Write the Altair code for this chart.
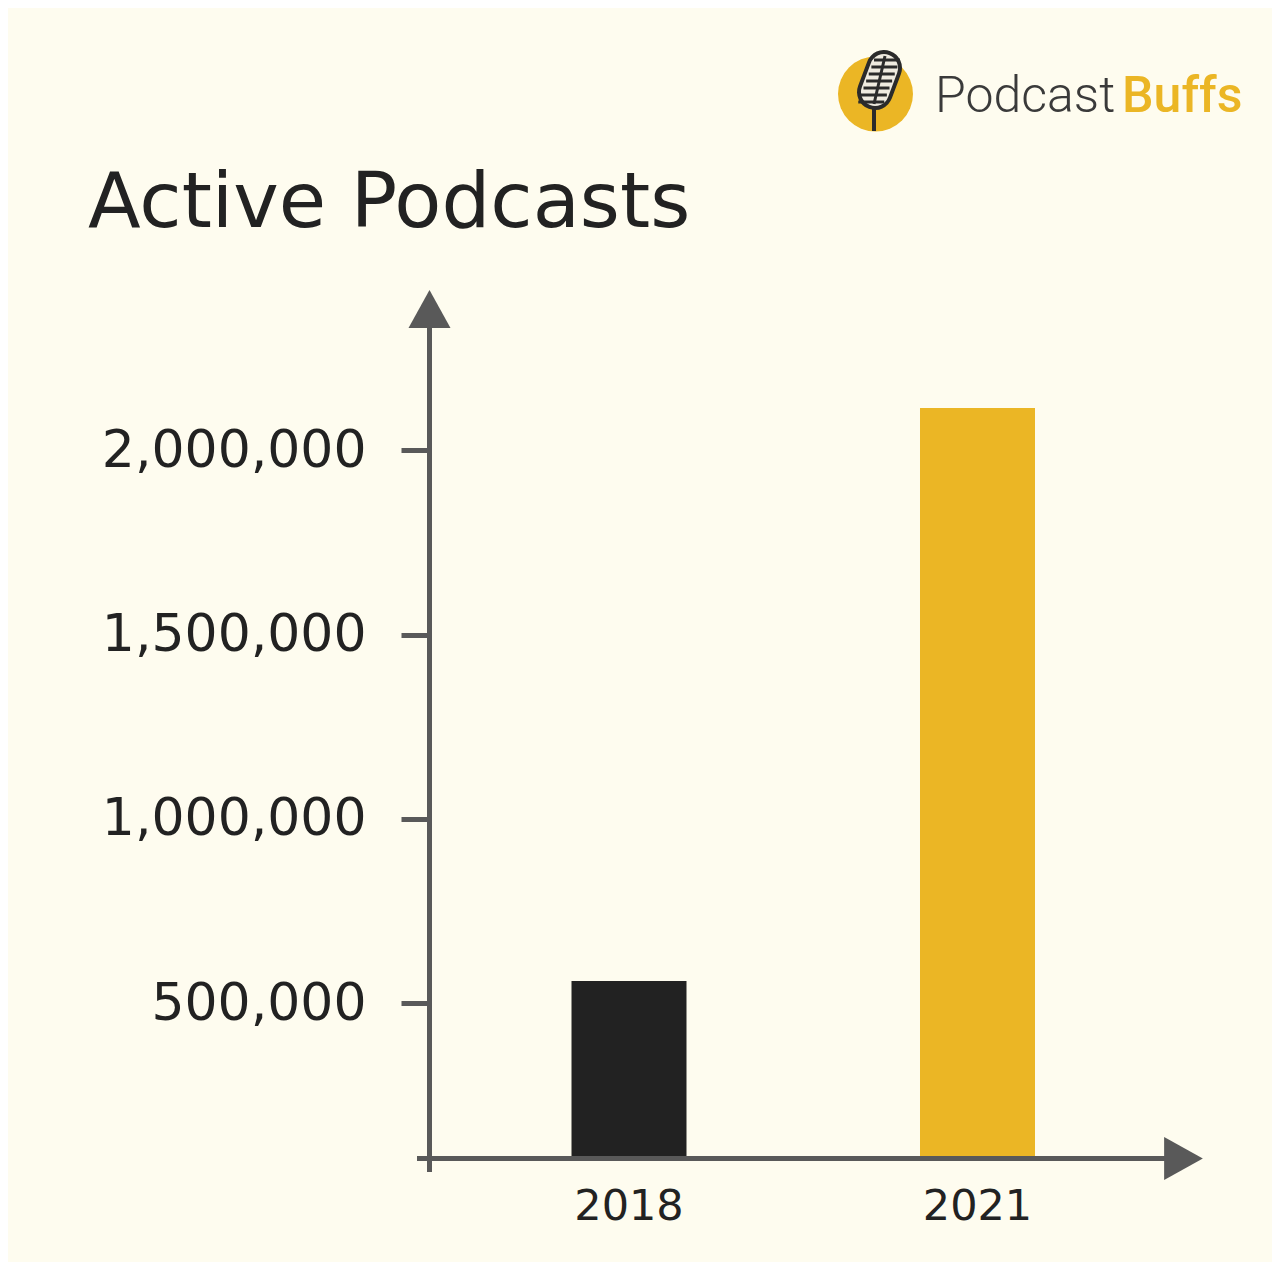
import altair as alt
import pandas as pd

# ---- data ----
years = ["2018", "2021"]
active_podcasts = [560000, 2115000]
bar_colors = ["#222222", "#EBB625"]
y_tick_values = [500000, 1000000, 1500000, 2000000]
y_domain = [80000, 2332000]

title_text = "Active Podcasts"
brand_left = "Podcast"
brand_right = "Buffs"

# ---- style ----
W, H = 735, 830
BG = "#fefcef"
AXIS = "#595959"
INK = "#222222"
YELLOW = "#EBB625"
FONT = "DejaVu Sans"

df = pd.DataFrame({"year": years, "value": active_podcasts, "color": bar_colors})
one = pd.DataFrame({"k": [0]})

xscale = alt.Scale(domain=years, range=[25.75, 722.75], paddingInner=0.67, paddingOuter=0.335)
yscale = alt.Scale(domain=y_domain, zero=False, nice=False)

bars = alt.Chart(df).mark_bar().encode(
    x=alt.X("year:N", scale=xscale,
            axis=alt.Axis(title=None, labelAngle=0, domain=False, ticks=False, grid=False,
                          labelFont=FONT, labelFontSize=43, labelColor=INK, labelLimit=0,
                          labelPadding=27, labelBaseline="top")),
    y=alt.Y("value:Q", scale=yscale,
            axis=alt.Axis(title=None, values=y_tick_values, format=",d", domain=False,
                          grid=False, ticks=True, tickSize=28, tickWidth=5, tickColor=AXIS,
                          labelFont=FONT, labelFontSize=52, labelColor=INK, labelLimit=0,
                          labelPadding=35)),
    y2=alt.datum(y_domain[0]),
    color=alt.Color("color:N", scale=None),
)

def rule(x, y, x2, y2, width, color, cap="butt"):
    return alt.Chart(one).mark_rule(strokeWidth=width, color=color, strokeCap=cap).encode(
        x=alt.value(x), y=alt.value(y), x2=alt.value(x2), y2=alt.value(y2))

# axis lines
y_line = rule(0.5, -5, 0.5, 844, 5, AXIS)
x_line = rule(-12, 830.5, 740, 830.5, 5, AXIS)

up_arrow = alt.Chart(one).mark_point(
    shape="M-1,0.9L1,0.9L0,-0.9Z", filled=True, color=AXIS, opacity=1, size=1764
).encode(x=alt.value(0.5), y=alt.value(-19))
right_arrow = alt.Chart(one).mark_point(
    shape="M-0.9,-1L0.9,0L-0.9,1Z", filled=True, color=AXIS, opacity=1, size=1849
).encode(x=alt.value(754.5), y=alt.value(830.5))

# title
title = alt.Chart(one).mark_text(
    text=title_text, font=FONT, fontSize=77, color=INK, align="left", baseline="alphabetic"
).encode(x=alt.value(-341), y=alt.value(-101))

# logo
logo_circle = alt.Chart(one).mark_circle(size=5625, color=YELLOW, opacity=1).encode(
    x=alt.value(446.5), y=alt.value(-234))
mic_layers = [
    rule(445, -222, 445, -197, 4, "#2b2b2b"),
    rule(455, -260, 446, -236, 36, "#2b2b2b", "round"),
    rule(455, -260, 446, -236, 28, "#efebe0", "round"),
]
for i, yy in enumerate([-268, -261, -254, -247, -240, -233, -226]):
    cx = 455 - (yy + 260) * 9 / 24
    mic_layers.append(rule(cx - 13, yy, cx + 13, yy, 3, "#2b2b2b"))
mic_layers.append(rule(456, -272, 445, -224, 3, "#2b2b2b"))

brand1 = alt.Chart(one).mark_text(
    text=brand_left, font="Roboto", fontSize=50, fontWeight=300, color="#3a3a3a",
    align="left", baseline="alphabetic").encode(x=alt.value(506), y=alt.value(-216))
brand2 = alt.Chart(one).mark_text(
    text=brand_right, font="Roboto", fontSize=50, fontWeight=500, color=YELLOW,
    align="left", baseline="alphabetic").encode(x=alt.value(693), y=alt.value(-216))

chart = alt.layer(
    bars, y_line, x_line, up_arrow, right_arrow, title, logo_circle, *mic_layers, brand1, brand2
).properties(
    width=W, height=H, background=BG,
    padding={"left": 421, "top": 320, "right": 108, "bottom": 104},
    autosize=alt.AutoSizeParams(type="none"),
).configure_view(stroke=None)

chart.save("out.html", embed_options={"renderer": "svg", "actions": False})
